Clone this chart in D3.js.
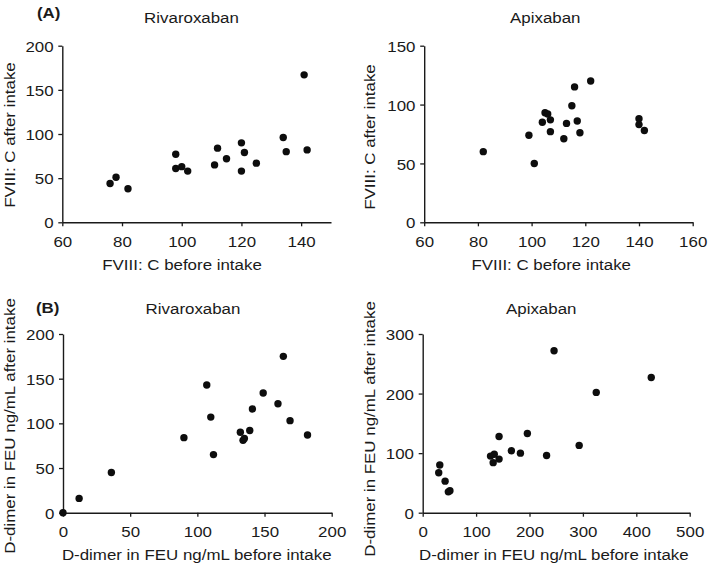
<!DOCTYPE html>
<html>
<head>
<meta charset="utf-8">
<script src="https://cdn.jsdelivr.net/npm/d3@7"></script>
<style>
  html, body { margin: 0; padding: 0; background: #fff; }
  svg { display: block; }
  text { font-family: "Liberation Sans", Arial, Helvetica, sans-serif; fill: #1a1a1a; }
</style>
</head>
<body>
<svg id="chart" width="709" height="566"></svg>
<script>
// ---- Data ----
const rivaFviiiBefore = [76, 78, 82, 98, 98, 100, 102, 111, 112, 115, 120, 120, 121, 125, 134, 135, 141, 142];
const rivaFviiiAfter  = [44, 51, 38, 77, 61, 63, 58, 65, 84, 72, 90, 58, 79, 67, 96, 80, 167, 82];

const apixFviiiBefore = [82, 99, 101, 104, 105, 106, 107, 107, 112, 113, 115, 116, 117, 118, 122, 140, 140, 142];
const apixFviiiAfter  = [60, 74, 50, 85, 93, 92, 87, 77, 71, 84, 99, 115, 86, 76, 120, 88, 83, 78];

const rivaDdimerBefore = [0, 12, 36, 90, 107, 110, 112, 132, 134, 135, 139, 141, 149, 160, 164, 169, 182];
const rivaDdimerAfter  = [0, 16, 45, 84, 143, 107, 65, 90, 81, 83, 92, 116, 134, 122, 175, 103, 87];

const apixDdimerBefore = [30, 32, 42, 48, 51, 127, 132, 134, 143, 143, 166, 183, 196, 232, 246, 293, 325, 428];
const apixDdimerAfter  = [67, 80, 53, 35, 37, 95, 84, 98, 90, 128, 104, 100, 133, 96, 272, 113, 202, 227];

const fviiiRivaXTicks = [60, 80, 100, 120, 140];
const fviiiRivaYTicks = [0, 50, 100, 150, 200];
const fviiiApixXTicks = [60, 80, 100, 120, 140, 160];
const fviiiApixYTicks = [0, 50, 100, 150];
const ddRivaXTicks = [0, 50, 100, 150, 200];
const ddRivaYTicks = [0, 50, 100, 150, 200];
const ddApixXTicks = [0, 100, 200, 300, 400, 500];
const ddApixYTicks = [0, 100, 200, 300];

const drugTitles = ["Rivaroxaban", "Apixaban"];
const panelLetters = ["(A)", "(B)"];
const xLabels = ["FVIII: C before intake", "D-dimer in FEU ng/mL before intake"];
const yLabels = ["FVIII: C after intake", "D-dimer in FEU ng/mL after intake"];

// ---- Layout ----
const SX = 1.09;           // horizontal text stretch
const FS = 15.5;
const svg = d3.select("#chart");
const ink = "#1a1a1a";

const panels = [
  { x: rivaFviiiBefore, y: rivaFviiiAfter, xd: [60, 150], yd: [0, 200], xt: fviiiRivaXTicks, yt: fviiiRivaYTicks,
    xr: [62.3, 331], yr: [222.3, 45.7], title: drugTitles[0], tx: 191.5, ty: 22.7,
    xl: xLabels[0], xlx: 182, xly: 270, yl: yLabels[0], ylx: 14.5, yly: 135 },
  { x: apixFviiiBefore, y: apixFviiiAfter, xd: [60, 160], yd: [0, 150], xt: fviiiApixXTicks, yt: fviiiApixYTicks,
    xr: [424.2, 692.7], yr: [222.3, 45.7], title: drugTitles[1], tx: 545.3, ty: 22.7,
    xl: xLabels[0], xlx: 551.2, xly: 270, yl: yLabels[0], ylx: 375, yly: 137 },
  { x: rivaDdimerBefore, y: rivaDdimerAfter, xd: [0, 200], yd: [0, 200], xt: ddRivaXTicks, yt: ddRivaYTicks,
    xr: [63, 331.7], yr: [512.7, 334], title: drugTitles[0], tx: 193, ty: 314,
    xl: xLabels[1], xlx: 196.7, xly: 560, yl: yLabels[1], ylx: 14.5, yly: 426 },
  { x: apixDdimerBefore, y: apixDdimerAfter, xd: [0, 500], yd: [0, 300], xt: ddApixXTicks, yt: ddApixYTicks,
    xr: [422.7, 689.7], yr: [512.7, 334], title: drugTitles[1], tx: 541.2, ty: 314,
    xl: xLabels[1], xlx: 553.8, xly: 560, yl: yLabels[1], ylx: 374.5, yly: 429 }
];

function stretchedText(g, str, x, y, anchor, rotate, weight) {
  const t = g.append("text")
    .attr("text-anchor", anchor)
    .attr("font-size", FS)
    .attr("transform", `translate(${x},${y})` + (rotate ? " rotate(-90)" : "") + ` scale(${SX},1)`)
    .text(str);
  if (weight) t.attr("font-weight", weight);
  return t;
}

panels.forEach(p => {
  const g = svg.append("g");
  const xs = d3.scaleLinear().domain(p.xd).range(p.xr);
  const ys = d3.scaleLinear().domain(p.yd).range(p.yr);

  // x axis
  const gx = g.append("g")
    .attr("transform", `translate(0,${p.yr[0]})`)
    .call(d3.axisBottom(xs).tickValues(p.xt).tickSize(4).tickSizeOuter(0).tickFormat(d3.format("d")));
  gx.selectAll("text")
    .attr("y", 24.8).attr("dy", 0)
    .attr("font-size", FS)
    .attr("font-family", "Liberation Sans, Arial, sans-serif")
    .attr("fill", ink)
    .attr("transform", `scale(${SX},1)`);

  // y axis
  const gy = g.append("g")
    .attr("transform", `translate(${p.xr[0]},0)`)
    .call(d3.axisLeft(ys).tickValues(p.yt).tickSize(4).tickSizeOuter(0).tickFormat(d3.format("d")));
  gy.selectAll("text")
    .attr("x", -8.7 / SX).attr("dy", "0.36em")
    .attr("font-size", FS)
    .attr("font-family", "Liberation Sans, Arial, sans-serif")
    .attr("fill", ink)
    .attr("transform", `scale(${SX},1)`);

  [gx, gy].forEach(a => {
    a.select(".domain").attr("stroke", ink).attr("stroke-width", 1.4);
    a.selectAll(".tick line").attr("stroke", ink).attr("stroke-width", 1.3);
  });

  // points
  g.append("g").selectAll("circle")
    .data(p.x.map((v, i) => [v, p.y[i]]))
    .join("circle")
    .attr("cx", d => xs(d[0]))
    .attr("cy", d => ys(d[1]))
    .attr("r", 3.7)
    .attr("fill", "#0d0d0d");

  // labels
  stretchedText(g, p.title, p.tx, p.ty, "middle", false);
  stretchedText(g, p.xl, p.xlx, p.xly, "middle", false);
  stretchedText(g, p.yl, p.ylx, p.yly, "middle", true);
});

stretchedText(svg, panelLetters[0], 37, 17.5, "start", false, "bold");
stretchedText(svg, panelLetters[1], 36, 313, "start", false, "bold");
</script>
</body>
</html>
